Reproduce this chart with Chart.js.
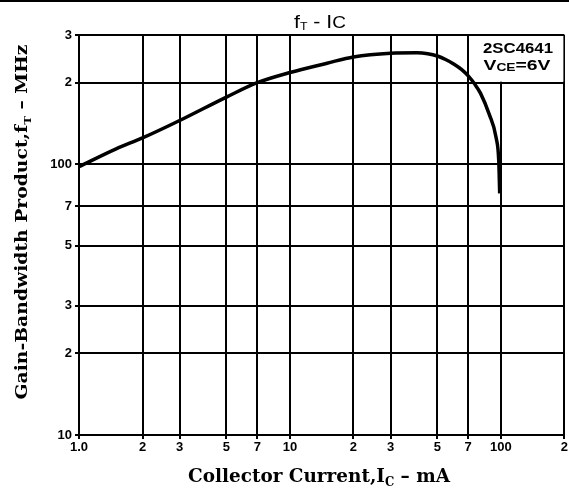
<!DOCTYPE html>
<html lang="en">
<head>
    <meta charset="UTF-8">
    <title>fT - IC</title>
    <script src="https://cdn.jsdelivr.net/npm/chart.js@4.4.0/dist/chart.umd.min.js"></script>
    <style>
        body {
            margin: 0;
            padding: 0;
            background: #fff;
        }
        .chart-box {
            width: 569px;
            height: 492px;
        }
    </style>
</head>
<body>
    <div class="chart-box">
        <canvas id="ftChart" width="569" height="492"></canvas>
    </div>

<script>
// curve
const currentMA = [1, 1.5, 2, 3, 5, 7, 10, 15, 20, 30, 40, 45, 50, 55, 60, 65, 70, 75, 80, 88, 95, 97.7, 98.7];
const ftMHz = [98, 114, 125, 145, 177, 200, 218, 236, 249, 257, 258, 256, 251, 243, 234, 224, 212, 198, 183, 153, 125, 103, 78];

// axis ticks
const xTickValues = [1, 2, 3, 5, 7, 10, 20, 30, 50, 70, 100, 200];
const xTickLabels = ['1.0', '2', '3', '5', '7', '10', '2', '3', '5', '7', '100', '2'];
const yTickValues = [10, 20, 30, 50, 70, 100, 200, 300];
const yTickLabels = ['10', '2', '3', '5', '7', '100', '2', '3'];

const serif = '"DejaVu Serif", "Liberation Serif", serif';
const sans = '"Liberation Sans", Arial, sans-serif';

// draw text made of pieces (for subscripts), centred and fitted to a width
function drawRich(ctx, parts, x, y, width) {
    let total = 0;
    parts.forEach(p => {
        ctx.font = p.font;
        total += ctx.measureText(p.t).width;
    });
    const sx = width ? width / total : 1;
    ctx.save();
    ctx.translate(x, y);
    ctx.scale(sx, 1);
    let cx = -total / 2;
    parts.forEach(p => {
        ctx.font = p.font;
        ctx.fillText(p.t, cx, p.dy || 0);
        cx += ctx.measureText(p.t).width;
    });
    ctx.restore();
}

const labelsPlugin = {
    id: 'labels',
    beforeDatasetsDraw(chart) {
        const ctx = chart.ctx;
        const xs = chart.scales.x;
        const ys = chart.scales.y;
        const area = chart.chartArea;
        // white note box in upper right corner
        const bx = xs.getPixelForValue(70) + 1;
        const by = ys.getPixelForValue(200) - 1;
        ctx.save();
        ctx.fillStyle = '#fff';
        ctx.fillRect(bx, area.top + 1, area.right - bx - 1, by - area.top - 1);
        ctx.restore();
    },
    afterDraw(chart) {
        const ctx = chart.ctx;
        ctx.save();
        ctx.fillStyle = '#000';
        ctx.textBaseline = 'alphabetic';
        ctx.textAlign = 'left';

        // top rule of the scan
        ctx.fillRect(0, 0, chart.width, 2);

        // title
        drawRich(ctx, [
            {t: 'f', font: '19px ' + sans},
            {t: 'T', font: '11px ' + sans, dy: 2},
            {t: ' - I', font: '19px ' + sans},
            {t: 'C', font: '17px ' + sans}
        ], 320, 28, 52);

        // x axis title
        drawRich(ctx, [
            {t: 'Collector Current,I', font: 'bold 19px ' + serif},
            {t: 'C', font: 'bold 12px ' + serif, dy: 4},
            {t: ' \u2013 mA', font: 'bold 19px ' + serif}
        ], 319, 482, 262);

        // y axis title
        ctx.save();
        ctx.translate(27, 222);
        ctx.rotate(-Math.PI / 2);
        drawRich(ctx, [
            {t: 'Gain-Bandwidth Product,f', font: 'bold 16px ' + serif},
            {t: 'T', font: 'bold 10px ' + serif, dy: 4},
            {t: ' \u2013 MHz', font: 'bold 16px ' + serif}
        ], 0, 0, 355);
        ctx.restore();

        // note text
        drawRich(ctx, [{t: '2SC4641', font: 'bold 14px ' + sans}], 518, 53, 70);
        drawRich(ctx, [
            {t: 'V', font: 'bold 14px ' + sans},
            {t: 'CE', font: 'bold 10px ' + sans, dy: 1},
            {t: '=6V', font: 'bold 14px ' + sans}
        ], 517, 70, 67);
        ctx.restore();
    }
};

const ctx = document.getElementById('ftChart').getContext('2d');
new Chart(ctx, {
    type: 'line',
    data: {
        datasets: [{
            label: 'fT',
            data: currentMA.map((c, i) => ({x: c, y: ftMHz[i]})),
            borderColor: '#000',
            borderWidth: 3.5,
            pointRadius: 0,
            fill: false,
            cubicInterpolationMode: 'monotone'
        }]
    },
    options: {
        responsive: false,
        animation: false,
        devicePixelRatio: 1,
        layout: {
            padding: {top: 35, right: 3, left: 0, bottom: 0}
        },
        plugins: {
            legend: {display: false},
            tooltip: {enabled: false},
            title: {display: false}
        },
        scales: {
            x: {
                type: 'logarithmic',
                min: 1,
                max: 200,
                afterBuildTicks: scale => {
                    scale.ticks = xTickValues.map(v => ({value: v}));
                },
                afterFit: scale => {
                    scale.height = 57;
                },
                ticks: {
                    autoSkip: false,
                    maxRotation: 0,
                    color: '#000',
                    padding: 1,
                    font: {family: sans, weight: 'bold', size: 13},
                    callback: (v, i) => xTickLabels[i]
                },
                grid: {color: '#000', lineWidth: 2, tickLength: 4},
                border: {color: '#000', width: 2}
            },
            y: {
                type: 'logarithmic',
                min: 10,
                max: 300,
                afterBuildTicks: scale => {
                    scale.ticks = yTickValues.map(v => ({value: v}));
                },
                afterFit: scale => {
                    scale.width = 79;
                },
                ticks: {
                    autoSkip: false,
                    color: '#000',
                    padding: 3,
                    font: {family: sans, weight: 'bold', size: 13},
                    callback: (v, i) => yTickLabels[i]
                },
                grid: {color: '#000', lineWidth: 2, tickLength: 4},
                border: {color: '#000', width: 2}
            }
        }
    },
    plugins: [labelsPlugin]
});
</script>
</body>
</html>
